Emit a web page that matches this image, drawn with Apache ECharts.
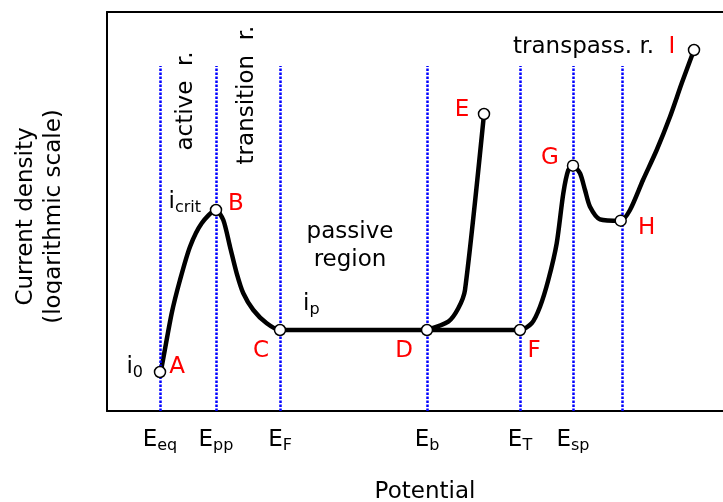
<!DOCTYPE html>
<html>
<head>
<meta charset="utf-8">
<script src="https://cdn.jsdelivr.net/npm/echarts@6.0.0/dist/echarts.min.js"></script>
<style>html,body{margin:0;padding:0;background:#fff}#c{width:723px;height:502px}</style>
</head>
<body>
<div id="c"></div>
<script>
// ---- data (arbitrary potential units, arbitrary log-current units) ----
const guideX = [53, 109, 173, 320, 413, 466, 515];
const guideTop = 345;
const tickValues = [53, 109, 173, 320, 413, 466];
const tickSubs = ['eq', 'pp', 'F', 'b', 'T', 'sp'];

const mainX = [53, 54.7, 64.7, 73, 83, 94.7, 109, 116.3, 123, 129.7, 136.3, 146.3, 159.7, 173, 320, 413, 424.7, 433, 441.3, 449.7, 456.3, 461.3, 466, 473, 478, 483, 493, 513.7, 523, 536, 549.7, 563, 574.7, 587];
const mainY = [39, 44.3, 97.7, 131, 164.3, 187.7, 201, 191, 164.3, 137.7, 117.7, 101, 87.7, 81, 81, 81, 87.7, 104.3, 131, 167.7, 217.7, 241, 245.3, 237.7, 221, 204.3, 191.7, 190.3, 201, 231, 261, 294.3, 327.7, 361];

const branchX = [320, 341.3, 351.3, 358, 377];
const branchY = [81, 89.3, 102.7, 121, 297];

const pointNames = ['A', 'B', 'C', 'D', 'E', 'F', 'G', 'H', 'I'];
const pointX = [53, 109, 173, 320, 377, 413, 466, 513.7, 587];
const pointY = [39, 201, 81, 81, 297, 81, 245.3, 190.3, 361];

// ---- styles ----
const FONT = 'DejaVu Sans';
const labelOffsets = {A:[17,-5], B:[20,-6], C:[-19,21], D:[-23,21], E:[-22,-4], F:[14,21], G:[-23,-8], H:[26,7], I:[-22,-3]};
const subRich = {
  m: {fontSize: 23, fontFamily: FONT, color: '#000', lineHeight: 28},
  s: {fontSize: 16, fontFamily: FONT, color: '#000', lineHeight: 12, verticalAlign: 'bottom'}
};
const frameLine = {show: true, onZero: false, lineStyle: {color: '#000', width: 2}};

const zip = (xs, ys) => xs.map((x, i) => [x, ys[i]]);

const chart = echarts.init(document.getElementById('c'), null, {renderer: 'canvas'});
chart.setOption({
  animation: false,
  backgroundColor: '#fff',
  textStyle: {fontFamily: FONT},
  grid: {left: 107, top: 12, width: 636, height: 399, show: false, containLabel: false, outerBoundsMode: 'none'},
  xAxis: [{
    type: 'value', min: 0, max: 636, position: 'bottom',
    axisLine: frameLine, axisTick: {show: false}, splitLine: {show: false},
    axisLabel: {
      show: true, margin: 15,
      customValues: tickValues,
      formatter: (v) => {
        const i = tickValues.indexOf(v);
        return i < 0 ? '' : '{m|E}{s|' + tickSubs[i] + '}';
      },
      rich: subRich
    },
    name: 'Potential', nameLocation: 'middle', nameGap: 70,
    nameTextStyle: {fontSize: 23, fontFamily: FONT, color: '#000'}
  }, {
    type: 'value', min: 0, max: 636, position: 'top',
    axisLine: frameLine, axisTick: {show: false}, splitLine: {show: false}, axisLabel: {show: false}
  }],
  yAxis: {
    type: 'value', min: 0, max: 399,
    axisLine: frameLine, axisTick: {show: false}, splitLine: {show: false}, axisLabel: {show: false},
    name: 'Current density\n(logarithmic scale)', nameLocation: 'middle', nameGap: 39, nameRotate: 90,
    nameTextStyle: {fontSize: 23, fontFamily: FONT, color: '#000', lineHeight: 28, padding: [0, 10, 0, 0]}
  },
  series: [
    {
      type: 'line', name: 'guides', data: [], z: 1, silent: true,
      markLine: {
        symbol: 'none', silent: true, label: {show: false}, animation: false,
        lineStyle: {color: '#0000ff', width: 2.5, type: [2.5, 1.5]},
        data: guideX.map(x => [{coord: [x, 0]}, {coord: [x, guideTop]}])
      }
    },
    {
      type: 'line', name: 'curve', data: zip(mainX, mainY), z: 3,
      showSymbol: false, symbol: 'none', smooth: 0.25,
      lineStyle: {color: '#000', width: 4.5}
    },
    {
      type: 'line', name: 'pitting', data: zip(branchX, branchY), z: 3,
      showSymbol: false, symbol: 'none', smooth: 0.25,
      lineStyle: {color: '#000', width: 4.5}
    },
    {
      type: 'scatter', name: 'points', z: 5,
      symbol: 'circle', symbolSize: 11,
      itemStyle: {color: '#fff', borderColor: '#000', borderWidth: 1.5, opacity: 1},
      label: {show: true, position: 'inside', formatter: '{b}', color: '#ff0000', fontSize: 23, fontFamily: FONT, align: 'center', verticalAlign: 'middle'},
      data: pointNames.map((n, i) => ({name: n, value: [pointX[i], pointY[i]], label: {offset: labelOffsets[n]}}))
    }
  ],
  graphic: [
    {type: 'text', x: 186, y: 101, rotation: Math.PI / 2, z: 10,
      style: {text: 'active  r.', fill: '#000', fontSize: 23, fontFamily: FONT, align: 'center', verticalAlign: 'middle'}},
    {type: 'text', x: 247, y: 95, rotation: Math.PI / 2, z: 10,
      style: {text: 'transition  r.', fill: '#000', fontSize: 23, fontFamily: FONT, align: 'center', verticalAlign: 'middle'}},
    {type: 'text', x: 350, y: 246, z: 10,
      style: {text: 'passive\nregion', fill: '#000', fontSize: 23, fontFamily: FONT, lineHeight: 28, align: 'center', verticalAlign: 'middle'}},
    {type: 'text', x: 513, y: 47, z: 10,
      style: {text: 'transpass. r.', fill: '#000', fontSize: 23, fontFamily: FONT, align: 'left', verticalAlign: 'middle'}},
    {type: 'text', x: 201, y: 202, z: 10,
      style: {text: '{m|i}{s|crit}', rich: subRich, align: 'right', verticalAlign: 'middle'}},
    {type: 'text', x: 143, y: 367, z: 10,
      style: {text: '{m|i}{s|0}', rich: subRich, align: 'right', verticalAlign: 'middle'}},
    {type: 'text', x: 303, y: 304, z: 10,
      style: {text: '{m|i}{s|p}', rich: subRich, align: 'left', verticalAlign: 'middle'}},
    {type: 'rect', z: 100, shape: {x: 62, y: 100, width: 42, height: 240}, style: {fill: '#fff'}}
  ]
});
</script>
</body>
</html>
